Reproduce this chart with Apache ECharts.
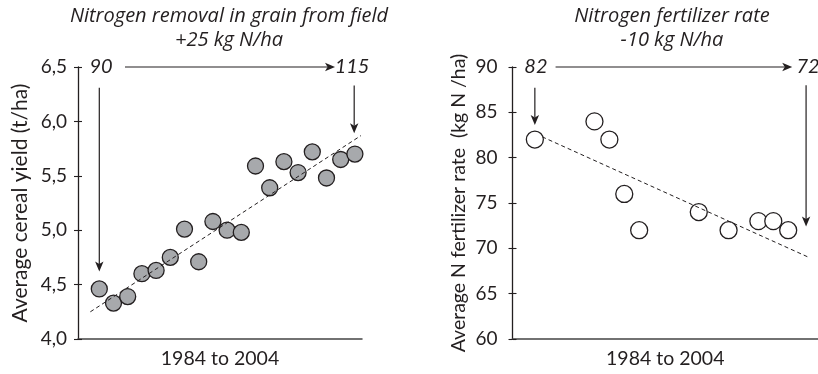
<!DOCTYPE html>
<html><head><meta charset="utf-8">
<script src="https://cdn.jsdelivr.net/npm/echarts@6/dist/echarts.min.js"></script>
<style>html,body{margin:0;padding:0;background:#fff}#c{width:818px;height:374px}</style>
</head><body><div id="c"></div>
<script>
// ---- data ----
const yieldIdx = [0,1,2,3,4,5,6,7,8,9,10,11,12,13,14,15,16,17,18];
const yieldValues = [4.46,4.33,4.39,4.60,4.63,4.75,5.01,4.71,5.08,5.00,4.98,5.59,5.39,5.63,5.53,5.72,5.48,5.65,5.70];
const yieldTrendX = [-0.63, 18.43];
const yieldTrendY = [4.25, 5.87];
const fertIdx = [0,4,5,6,7,11,13,15,16,17];
const fertValues = [82,84,82,76,72,74,72,73,73,72];
const fertTrendX = [0.49, 18.39];
const fertTrendY = [82.3, 69.0];
const titles = ['Nitrogen removal in grain from field\n+25 kg N/ha', 'Nitrogen fertilizer rate\n-10 kg N/ha'];
const yNames = ['Average cereal yield (t/ha)', 'Average N fertilizer rate  (kg N /ha)'];
const xName = '1984 to 2004';
// annotation arrows [x1,y1,x2,y2] (arrowhead at second point)
const leftArrows = [[1.81,6.5,16.6,6.5],[0,6.31,0,4.62],[17.95,6.33,17.95,5.89]];
const rightArrows = [[1.39,90,17.27,90],[0,87.7,0,83.6],[18.2,88.0,18.2,72.4]];
const leftLabels = [[0.12,6.5,'90'],[17.8,6.5,'115']];
const rightLabels = [[0.07,90,'82'],[17.55,90,'72']];

const ink = '#231f20';
const FONT = 'Lato';

function arrowSeries(arrs, xi, yi){
  return {type:'custom', xAxisIndex:xi, yAxisIndex:yi, silent:true, clip:false,
    encode:{x:[0,2], y:[1,3]},
    data: arrs,
    renderItem:function(params, api){
      const p1 = api.coord([api.value(0), api.value(1)]);
      const p2 = api.coord([api.value(2), api.value(3)]);
      const dx = p2[0]-p1[0], dy = p2[1]-p1[1];
      const len = Math.sqrt(dx*dx+dy*dy);
      const ux = dx/len, uy = dy/len, nx = -uy, ny = ux;
      const L = 10, W = 4.2, N = 2.5;
      const base = [p2[0]-ux*L, p2[1]-uy*L];
      const notch = [p2[0]-ux*(L-N), p2[1]-uy*(L-N)];
      return {type:'group', children:[
        {type:'line', shape:{x1:p1[0], y1:p1[1], x2:notch[0], y2:notch[1]},
         style:{stroke:ink, lineWidth:1.2}},
        {type:'polygon', shape:{points:[p2, [base[0]+nx*W, base[1]+ny*W], notch, [base[0]-nx*W, base[1]-ny*W]]},
         style:{fill:ink}}
      ]};
    }};
}
function labelSeries(labs, xi, yi, align){
  return {type:'scatter', xAxisIndex:xi, yAxisIndex:yi, symbolSize:1, silent:true, clip:false,
    itemStyle:{color:'rgba(0,0,0,0)', opacity:1},
    data: labs.map((l,i)=>({value:[l[0],l[1]],
      label:{formatter:l[2], align: align[i], color:ink, opacity:1}})),
    label:{show:true, position:'inside', color:ink, fontFamily:FONT, fontStyle:'italic', fontSize:20, opacity:1}};
}
function yAxes(gi, min, max, interval, name, fmt, gap, margin, nameSize){
  return [
    {type:'value', gridIndex:gi, position:'left', min, max, interval, name, nameLocation:'middle', nameGap:gap,
     nameTextStyle:{color:ink, fontFamily:FONT, fontSize:nameSize},
     axisLine:{show:true, onZero:false, lineStyle:{color:ink, width:1.3}},
     axisTick:{show:true, inside:false, length:4, lineStyle:{color:ink, width:1.1}},
     axisLabel:{color:ink, fontFamily:FONT, fontSize:19, margin, formatter:fmt},
     splitLine:{show:false}},
    {type:'value', gridIndex:gi, position:'left', offset:0, min, max, interval,
     axisLine:{show:false, onZero:false}, axisTick:{show:true, inside:true, length:4, lineStyle:{color:ink, width:1.1}},
     axisLabel:{show:false}, splitLine:{show:false}}
  ];
}
function xAxis(gi, min, max){
  return {type:'value', gridIndex:gi, min, max, name:xName, nameLocation:'middle', nameGap:10,
    nameTextStyle:{color:ink, fontFamily:FONT, fontSize:19.5},
    axisLine:{show:true, onZero:false, lineStyle:{color:'#444', width:1.5}}, axisTick:{show:false},
    axisLabel:{show:false}, splitLine:{show:false}};
}

const chart = echarts.init(document.getElementById('c'), null, {renderer:'canvas'});
chart.setOption({
  animation:false,
  backgroundColor:'#fff',
  title:[
    {text:titles[0], left:229, top:4, padding:0, textAlign:'center',
     textStyle:{color:ink, fontFamily:'Open Sans', fontStyle:'italic', fontWeight:'normal', fontSize:20, lineHeight:24}},
    {text:titles[1], left:672, top:4, padding:0, textAlign:'center',
     textStyle:{color:ink, fontFamily:'Open Sans', fontStyle:'italic', fontWeight:'normal', fontSize:20, lineHeight:24}}
  ],
  grid:[
    {left:78, top:67, width:284, height:272, containLabel:false, outerBoundsMode:'none'},
    {left:512.5, top:67, width:305.5, height:272, containLabel:false, outerBoundsMode:'none'}
  ],
  xAxis:[xAxis(0,-1.5,18.5), xAxis(1,-1.5,19)],
  yAxis:[
    ...yAxes(0,4,6.5,0.5,yNames[0], v=>v.toFixed(1).replace('.',','), 47, 11, 21),
    ...yAxes(1,60,90,5,yNames[1], v=>String(v), 44, 15, 19.5)
  ],
  series:[
    {type:'line', xAxisIndex:0, yAxisIndex:0, symbol:'none', silent:true,
     data: yieldTrendX.map((x,i)=>[x,yieldTrendY[i]]),
     lineStyle:{color:ink, width:1, type:[4,3]}},
    {type:'scatter', xAxisIndex:0, yAxisIndex:0, symbolSize:16, silent:true,
     data: yieldIdx.map((x,i)=>[x,yieldValues[i]]),
     itemStyle:{color:'#a7a9ac', borderColor:ink, borderWidth:1.3, opacity:1}},
    arrowSeries(leftArrows,0,0),
    labelSeries(leftLabels,0,0,['center','center']),
    {type:'line', xAxisIndex:1, yAxisIndex:2, symbol:'none', silent:true,
     data: fertTrendX.map((x,i)=>[x,fertTrendY[i]]),
     lineStyle:{color:ink, width:1, type:[4,3]}},
    {type:'scatter', xAxisIndex:1, yAxisIndex:2, symbolSize:17, silent:true,
     data: fertIdx.map((x,i)=>[x,fertValues[i]]),
     itemStyle:{color:'#fff', borderColor:ink, borderWidth:1.3, opacity:1}},
    arrowSeries(rightArrows,1,2),
    labelSeries(rightLabels,1,2,['center','left'])
  ]
});
</script></body></html>
